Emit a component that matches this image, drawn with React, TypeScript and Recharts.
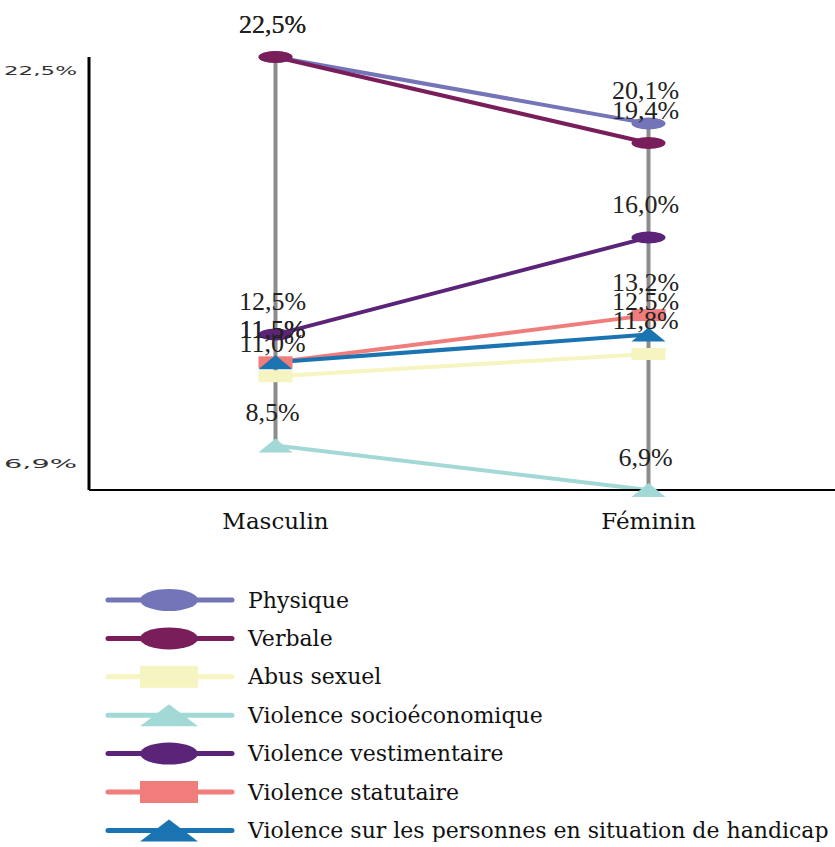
import { LineChart, Line, XAxis, YAxis, Legend, ReferenceLine, LabelList } from "recharts";

if (typeof document !== "undefined") document.body.style.margin = "0";

const categories = ["Masculin", "Féminin"];
const physique = [22.5, 20.1];
const verbale = [22.5, 19.4];
const abusSexuel = [11.0, 11.8];
const socioeconomique = [8.5, 6.9];
const vestimentaire = [12.5, 16.0];
const statutaire = [11.5, 13.2];
const handicap = [11.5, 12.5];
const yTicks = [6.9, 22.5];

const series = [
  { key: "physique", name: "Physique", values: physique, color: "#7474b9", shape: "ellipse" },
  { key: "verbale", name: "Verbale", values: verbale, color: "#7a1e5b", shape: "ellipse" },
  { key: "abus", name: "Abus sexuel", values: abusSexuel, color: "#f6f4c0", shape: "rect" },
  { key: "socio", name: "Violence socioéconomique", values: socioeconomique, color: "#a2d9d6", shape: "triangle" },
  { key: "vest", name: "Violence vestimentaire", values: vestimentaire, color: "#5c2479", shape: "ellipse" },
  { key: "stat", name: "Violence statutaire", values: statutaire, color: "#f07c7c", shape: "rect" },
  { key: "hand", name: "Violence sur les personnes en situation de handicap", values: handicap, color: "#1a74b2", shape: "triangle" },
];

const data = categories.map((cat, i) => {
  const row: Record<string, string | number> = { cat };
  series.forEach((s) => (row[s.key] = s.values[i]));
  return row;
});

const fmt = (v: number) => v.toFixed(1).replace(".", ",") + "%";

const Marker = ({ shape, cx, cy, color, w, h }: any) => {
  if (shape === "ellipse") return <ellipse cx={cx} cy={cy} rx={w / 2} ry={h / 2} fill={color} />;
  if (shape === "rect") return <rect x={cx - w / 2} y={cy - h / 2} width={w} height={h} fill={color} />;
  return (
    <polygon
      points={`${cx - w / 2},${cy + h / 2} ${cx + w / 2},${cy + h / 2} ${cx},${cy - h / 2}`}
      fill={color}
    />
  );
};

const YTick = (props: any) => {
  const { x, y, payload } = props;
  const dy = payload.value === yTicks[yTicks.length - 1] ? 13 : -27;
  return (
    <text
      x={x - 4}
      y={y + dy}
      textAnchor="end"
      dominantBaseline="central"
      fontFamily="DejaVu Sans"
      fontSize={13}
      fill="#333"
      textLength={73}
      lengthAdjust="spacingAndGlyphs"
    >
      {fmt(payload.value)}
    </text>
  );
};

const XTick = (props: any) => {
  const { x, y, payload } = props;
  return (
    <text x={x} y={490 + 31} textAnchor="middle" dominantBaseline="central" fontFamily="DejaVu Serif" fontSize={23} fill="#111">
      {payload.value}
    </text>
  );
};

const renderLabel = (p: any) => {
  const { x, y, value } = p;
  return (
    <text x={x - 3} y={y - 33} textAnchor="middle" dominantBaseline="central" fontFamily="Liberation Serif" fontSize={26} fill="#222">
      {fmt(value)}
    </text>
  );
};

const LegendContent = () => (
  <svg width={735} height={262} style={{ display: "block" }}>
    {series.map((s, i) => {
      const y = 20 + i * 38.4;
      return (
        <g key={s.key}>
          <line x1={8} x2={132} y1={y} y2={y} stroke={s.color} strokeWidth={5} strokeLinecap="round" />
          <Marker shape={s.shape} cx={69} cy={y} color={s.color} w={58} h={22} />
          <text x={148} y={y} dominantBaseline="central" fontFamily="DejaVu Serif" fontSize={22} fill="#111">
            {s.name}
          </text>
        </g>
      );
    })}
  </svg>
);

const highLow = categories.map((cat, i) => {
  const vals = series.map((s) => s.values[i]);
  return { cat, hi: Math.max(...vals), lo: Math.min(...vals) };
});

export default function App() {
  return (
    <LineChart width={835} height={847} data={data} margin={{ top: 57, right: 0, left: 0, bottom: 55 }}>
      <XAxis
        dataKey="cat"
        padding={{ left: 186.5, right: 186.5 }}
        axisLine={{ stroke: "#000", strokeWidth: 2 }}
        tickLine={false}
        tick={<XTick />}
        height={40}
      />
      <YAxis
        type="number"
        domain={[6.9, 22.5]}
        ticks={yTicks}
        width={89}
        axisLine={{ stroke: "#000", strokeWidth: 3 }}
        tickLine={false}
        tick={<YTick />}
      />
      {highLow.map((d) => (
        <ReferenceLine
          key={d.cat}
          segment={[
            { x: d.cat, y: d.hi },
            { x: d.cat, y: d.lo },
          ]}
          stroke="#8c8c8c"
          strokeWidth={4}
        />
      ))}
      {series.map((s) => (
        <Line
          key={s.key}
          dataKey={s.key}
          name={s.name}
          stroke={s.color}
          strokeWidth={4}
          isAnimationActive={false}
          dot={(p: any) => (
            <Marker
              key={`${s.key}-${p.index}`}
              shape={s.shape}
              cx={p.cx}
              cy={p.cy}
              color={s.color}
              w={34}
              h={s.shape === "triangle" ? 14 : 12}
            />
          )}
          activeDot={false}
        >
          <LabelList dataKey={s.key} content={renderLabel} />
        </Line>
      ))}
      <Legend
        layout="horizontal"
        verticalAlign="bottom"
        align="center"
        content={() => <LegendContent />}
        wrapperStyle={{ left: 100, top: 580, bottom: "auto", width: 735, height: 262 }}
      />
    </LineChart>
  );
}
